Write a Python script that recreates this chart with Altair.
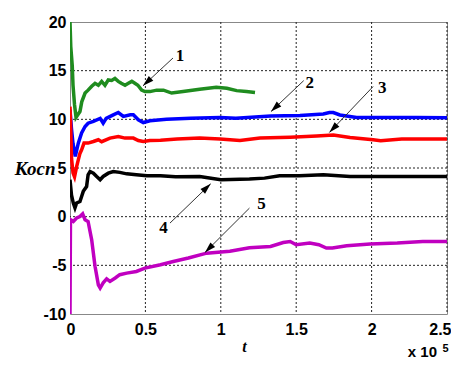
import math
import altair as alt
import pandas as pd

# ---- series (t in units of 1e5) ----
green_t = [0, 0.005, 0.01, 0.015, 0.02, 0.03, 0.04, 0.066, 0.078, 0.1, 0.12, 0.144, 0.166, 0.188, 0.21,
           0.232, 0.254, 0.276, 0.298, 0.32, 0.34, 0.365, 0.387, 0.41, 0.43, 0.45, 0.475, 0.497, 0.53,
           0.575, 0.62, 0.674, 0.75, 0.86, 0.97, 1.04, 1.105, 1.17, 1.227]
green_v = [20, 17.5, 16.5, 15.5, 13.5, 11.5, 10.2, 10.8, 11.8, 12.7, 13.0, 13.4, 13.7, 13.5, 13.9,
           13.5, 14.05, 14.0, 14.2, 13.9, 13.7, 13.5, 13.7, 13.9, 13.7, 13.5, 13.0, 12.85, 12.85,
           13.0, 13.0, 12.7, 12.85, 13.1, 13.3, 13.2, 12.95, 12.85, 12.75]

blue_t = [0, 0.01, 0.02, 0.035, 0.055, 0.077, 0.1, 0.12, 0.155, 0.2, 0.22, 0.24, 0.287, 0.32, 0.354,
          0.4, 0.42, 0.453, 0.486, 0.53, 0.64, 0.8, 0.995, 1.1, 1.33, 1.525, 1.68, 1.72, 1.746, 1.79,
          1.9, 2.08, 2.3, 2.5]
blue_v = [11, 9.0, 7.5, 6.2, 7.55, 8.6, 9.26, 9.6, 9.8, 10.1, 9.6, 10.1, 10.46, 10.7, 10.3,
          10.46, 10.46, 9.95, 9.67, 9.85, 10.0, 10.1, 10.2, 10.1, 10.35, 10.4, 10.55, 10.7, 10.7, 10.45,
          10.2, 10.2, 10.2, 10.15]

red_t = [0, 0.005, 0.01, 0.02, 0.03, 0.044, 0.055, 0.066, 0.077, 0.093, 0.12, 0.155, 0.188, 0.21,
         0.265, 0.32, 0.365, 0.42, 0.453, 0.486, 0.53, 0.6, 0.71, 0.86, 0.995, 1.127, 1.26, 1.46,
         1.636, 1.746, 1.857, 2.01, 2.06, 2.2, 2.5]
red_v = [11.3, 9.0, 6.0, 4.5, 4.1, 5.15, 5.84, 6.5, 6.87, 7.56, 7.56, 7.72, 7.9, 7.7,
         8.07, 8.23, 8.07, 8.07, 7.82, 7.72, 7.82, 7.85, 7.97, 8.07, 7.97, 7.82, 8.07, 8.17,
         8.3, 8.4, 8.13, 7.9, 7.8, 7.97, 7.97]

black_t = [0, 0.01, 0.022, 0.033, 0.044, 0.066, 0.077, 0.088, 0.11, 0.12, 0.133, 0.155, 0.177, 0.2,
           0.22, 0.254, 0.287, 0.33, 0.376, 0.44, 0.51, 0.6, 0.7, 0.86, 1.0, 1.19, 1.29, 1.39, 1.52,
           1.68, 1.857, 2.5]
black_v = [3.8, 2.2, 1.4, 0.9, 1.4, 1.56, 2.07, 2.6, 3.1, 4.3, 4.64, 4.47, 4.13, 3.8,
           4.13, 4.47, 4.64, 4.55, 4.4, 4.3, 4.2, 4.2, 4.1, 4.13, 3.8, 3.86, 3.96, 4.2, 4.2,
           4.3, 4.13, 4.13]

magenta_t = [0, 0.003, 0.022, 0.044, 0.066, 0.084, 0.1, 0.12, 0.144, 0.166, 0.188, 0.2, 0.22, 0.243,
             0.265, 0.3, 0.33, 0.376, 0.44, 0.497, 0.6, 0.685, 0.785, 0.906, 1.06, 1.19, 1.33, 1.414,
             1.46, 1.5, 1.59, 1.65, 1.7, 1.74, 1.835, 1.99, 2.17, 2.34, 2.5]
magenta_v = [-10, -0.3, -0.5, -0.14, 0.02, 0.3, -0.32, -0.5, -2.4, -5.1, -7.0, -7.33, -6.8, -6.4,
             -6.65, -6.3, -5.96, -5.8, -5.63, -5.28, -4.94, -4.6, -4.25, -3.75, -3.55, -3.2, -3.06, -2.65,
             -2.55, -2.88, -2.7, -2.88, -3.22, -3.22, -2.99, -2.81, -2.71, -2.55, -2.55]

series_names = ["1", "2", "3", "4", "5"]
series_colors = ["#1f8c1f", "#0000ff", "#ff0000", "#000000", "#c000c0"]

x_ticks = [0, 0.5, 1, 1.5, 2, 2.5]
y_ticks = [-10, -5, 0, 5, 10, 15, 20]
x_grid = [0.5, 1, 1.5, 2, 2.5]
y_grid = [-5, 0, 5, 10, 15]

# annotations: label position, arrow start, arrow tip (data coordinates)
ann_label = ["1", "2", "3", "4", "5"]
ann_lt = [0.73, 1.59, 2.07, 0.62, 1.27]
ann_lv = [16.5, 13.77, 13.25, -1.2, 1.33]
arr_t0 = [0.683, 1.55, 2.01, 0.663, 1.19]
arr_v0 = [16.3, 13.98, 13.37, -0.66, 0.88]
arr_t1 = [0.484, 1.333, 1.72, 0.933, 0.895]
arr_v1 = [13.44, 10.8, 8.65, 3.38, -3.68]

W, H = 377, 292
X_DOM = [0, 2.5]
Y_DOM = [-10, 20]

xs = alt.Scale(domain=X_DOM, nice=False, zero=False)
ys = alt.Scale(domain=Y_DOM, nice=False, zero=False)

rows = []
for name, ts, vs in zip(series_names,
                        [green_t, blue_t, red_t, black_t, magenta_t],
                        [green_v, blue_v, red_v, black_v, magenta_v]):
    for i, (t, v) in enumerate(zip(ts, vs)):
        rows.append({"s": name, "t": t, "v": v, "i": i})
df = pd.DataFrame(rows)

xgrid_df = pd.DataFrame({"t": x_grid})
ygrid_df = pd.DataFrame({"v": y_grid})

grid_x = alt.Chart(xgrid_df).mark_rule(color="#222", strokeWidth=1, strokeDash=[2, 2]).encode(
    x=alt.X("t:Q", scale=xs))
grid_y = alt.Chart(ygrid_df).mark_rule(color="#222", strokeWidth=1, strokeDash=[2, 2]).encode(
    y=alt.Y("v:Q", scale=ys))

lines = alt.Chart(df).mark_line(strokeWidth=3.5, clip=True).encode(
    x=alt.X("t:Q", scale=xs, axis=alt.Axis(
        values=x_ticks, labelExpr="datum.value + ''", grid=False, ticks=False, tickSize=0, domain=False,
        labelFont="Liberation Sans", labelFontWeight="bold", labelFontSize=16, labelColor="black",
        labelFlush=True, labelFlushOffset=4, labelOverlap=False,
        labelPadding=7, title="t", titleFont="Liberation Serif", titleFontStyle="italic",
        titleFontWeight="bold", titleFontSize=16, titleColor="black", titleX=174, titleY=32,
        titleBaseline="middle", titleAlign="center")),
    y=alt.Y("v:Q", scale=ys, axis=alt.Axis(
        values=y_ticks, labelExpr="datum.value + ''", grid=False, ticks=False, tickSize=0, domain=False,
        labelFont="Liberation Sans", labelFontWeight="bold", labelFontSize=16, labelColor="black",
        labelFlush=False, labelOverlap=False,
        labelPadding=4, title="Косп", titleAngle=0, titleAlign="right", titleBaseline="middle",
        titleX=-15, titleY=146, titleFont="Liberation Serif", titleFontStyle="italic",
        titleFontWeight="bold", titleFontSize=19, titleColor="black")),
    color=alt.Color("s:N", scale=alt.Scale(domain=series_names, range=series_colors), legend=None),
    order=alt.Order("i:Q"),
    detail="s:N",
)

# arrows
sx = W / (X_DOM[1] - X_DOM[0])
sy = H / (Y_DOM[1] - Y_DOM[0])
angles = []
for a, b, c, d in zip(arr_t0, arr_v0, arr_t1, arr_v1):
    dx = (c - a) * sx
    dy = -(d - b) * sy
    angles.append(math.degrees(math.atan2(dx, -dy)) % 360)
arr_df = pd.DataFrame({"t": arr_t0, "v": arr_v0, "t2": arr_t1, "v2": arr_v1})
head_df = pd.DataFrame({"t": arr_t1, "v": arr_v1, "a": angles})
lab_df = pd.DataFrame({"t": ann_lt, "v": ann_lv, "lab": ann_label})

arrow_lines = alt.Chart(arr_df).mark_rule(color="#333", strokeWidth=1).encode(
    x=alt.X("t:Q", scale=xs), y=alt.Y("v:Q", scale=ys), x2="t2:Q", y2="v2:Q")
arrow_heads = alt.Chart(head_df).mark_point(
    shape="M0,0L0.6,2L-0.6,2Z", filled=True, color="black", opacity=1, size=121, strokeWidth=0).encode(
    x=alt.X("t:Q", scale=xs), y=alt.Y("v:Q", scale=ys), angle=alt.Angle("a:Q", scale=None))
labels = alt.Chart(lab_df).mark_text(
    font="Liberation Serif", fontWeight="bold", fontSize=17, color="black", align="center",
    baseline="middle").encode(
    x=alt.X("t:Q", scale=xs), y=alt.Y("v:Q", scale=ys), text="lab:N")

# x 10^5 multiplier
mult_df = pd.DataFrame({"t": [2.434], "v": [-14.4], "txt": ["x 10"]})
exp_df = pd.DataFrame({"t": [2.49], "v": [-13.9], "txt": ["5"]})
mult = alt.Chart(mult_df).mark_text(
    font="Liberation Sans", fontWeight="bold", fontSize=15, color="black", align="right",
    baseline="alphabetic").encode(x=alt.X("t:Q", scale=xs), y=alt.Y("v:Q", scale=ys), text="txt:N")
expo = alt.Chart(exp_df).mark_text(
    font="Liberation Sans", fontWeight="bold", fontSize=11, color="black", align="center",
    baseline="alphabetic").encode(x=alt.X("t:Q", scale=xs), y=alt.Y("v:Q", scale=ys), text="txt:N")

chart = alt.layer(grid_x, grid_y, lines, arrow_lines, arrow_heads, labels, mult, expo).properties(
    width=W, height=H,
    autosize=alt.AutoSizeParams(type="none"),
    padding={"left": 62, "top": 14, "right": 4, "bottom": 45},
    background="white",
).configure_view(stroke="#888888", strokeWidth=1)

chart.save("out.html", embed_options={"renderer": "svg", "actions": False})
